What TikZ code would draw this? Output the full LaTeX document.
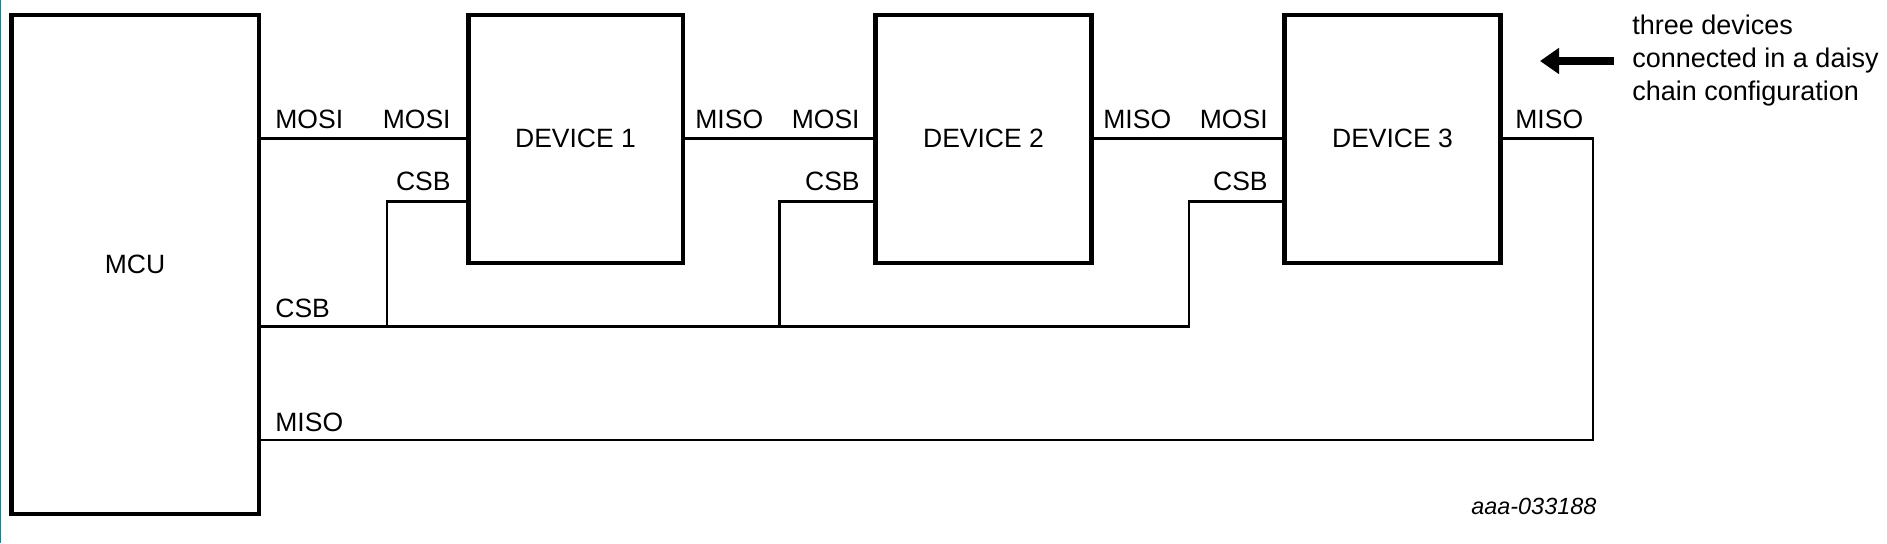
\documentclass[tikz,border=0pt]{standalone}
\usepackage{fontspec}
\setmainfont{Liberation Sans}
\usetikzlibrary{arrows.meta,positioning,calc}
\definecolor{spiink}{HTML}{000000}
\definecolor{spiedge}{HTML}{2A7A86}
\tikzset{
  spichip/.style={draw=spiink, line width=2.25pt, fill=white, inner sep=0pt,
                  font=\fontsize{13.25}{16}\selectfont},
  spiwire/.style={draw=spiink, line width=1.35pt},
  spipin/.style={font=\fontsize{13.25}{16}\selectfont, inner sep=0pt},
  spinote/.style={font=\fontsize{13.5}{16.5}\selectfont, align=left, inner sep=0pt},
  spiarrow/.style={-{Triangle[length=9.5pt,width=12.5pt]}, draw=spiink, line width=3.7pt},
  spitag/.style={font=\itshape\fontsize{11.7}{14}\selectfont, inner sep=0pt},
}

\begin{document}
\begin{tikzpicture}[x=0.5pt,y=-0.5pt]
  \useasboundingbox (0,0) rectangle (1887,543);
  \draw[spiedge, line width=0.6pt] (0.6,0) -- (0.6,543);
  % chips
  \node[spichip, minimum width=123.75pt, minimum height=249.5pt] (mcu) at (135,264.25) {MCU};
  \node[spichip, minimum width=107.25pt, minimum height=124pt] (dev1) at (575.5,138.75) {DEVICE 1};
  \node[spichip, minimum width=108pt, minimum height=124pt] (dev2) at (983.5,138.75) {DEVICE 2};
  \node[spichip, minimum width=108pt, minimum height=124pt] (dev3) at (1392.5,138.75) {DEVICE 3};
  % data chain
  \draw[spiwire] (mcu.east |- dev1.west) -- (dev1.west);
  \draw[spiwire] (dev1.east) -- (dev2.west);
  \draw[spiwire] (dev2.east) -- (dev3.west);
  \coordinate (misoturn) at (1593,440);
  \draw[spiwire] (dev3.east) -- (misoturn |- dev3.east) -- (misoturn) -- (mcu.east |- misoturn);
  % chip select bus
  \coordinate (csbus) at (0,326.5);
  \path (dev1.west) ++(0,62.5) coordinate (cs1);
  \path (dev2.west) ++(0,62.5) coordinate (cs2);
  \path (dev3.west) ++(0,62.5) coordinate (cs3);
  \coordinate (tap1) at (387,0);
  \coordinate (tap2) at (779.5,0);
  \coordinate (tap3) at (1189,0);
  \draw[spiwire] (mcu.east |- csbus) -- (tap3 |- csbus) -- (tap3 |- cs3) -- (cs3);
  \draw[spiwire] (tap1 |- csbus) -- (tap1 |- cs1) -- (cs1);
  \draw[spiwire] (tap2 |- csbus) -- (tap2 |- cs2) -- (cs2);
  % pin names
  \node[spipin, anchor=base west] (mcumosi) at (275,128) {MOSI};
  \node[spipin, anchor=base west] (mcucsb) at (275,317) {CSB};
  \node[spipin, anchor=base west] (mcumiso) at (275,431) {MISO};
  \node[spipin, anchor=base east] (d1mosi) at (451,128) {MOSI};
  \node[spipin, anchor=base east] (d1csb) at (451,190) {CSB};
  \node[spipin, anchor=base west] (d1miso) at (695,128) {MISO};
  \node[spipin, anchor=base east] (d2mosi) at (860,128) {MOSI};
  \node[spipin, anchor=base east] (d2csb) at (860,190) {CSB};
  \node[spipin, anchor=base west] (d2miso) at (1103,128) {MISO};
  \node[spipin, anchor=base east] (d3mosi) at (1268,128) {MOSI};
  \node[spipin, anchor=base east] (d3csb) at (1268,190) {CSB};
  \node[spipin, anchor=base west] (d3miso) at (1515,128) {MISO};
  % note
  \node[spinote, anchor=north west] (note) at (1632,15)
    {three devices\\connected in a daisy\\chain configuration};
  \coordinate (tip) at (1540,0);
  \draw[spiarrow] ([xshift=-9pt]note.west) -- (tip |- note.west);
  \node[spitag, anchor=base west] (tag) at (1471,514) {aaa-033188};
\end{tikzpicture}
\end{document}
